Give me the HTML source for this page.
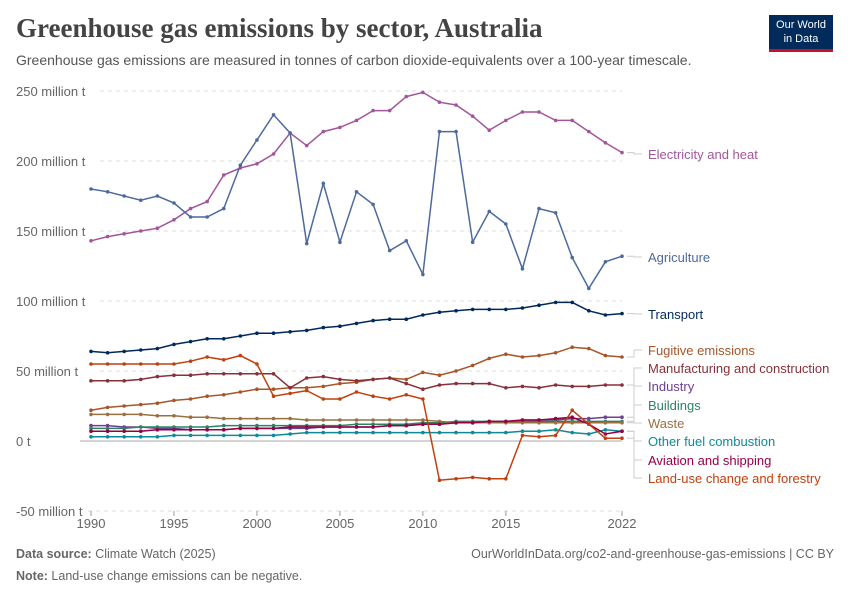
<!DOCTYPE html>
<html><head><meta charset="utf-8">
<style>
body{margin:0;background:#fff;font-family:"Liberation Sans",sans-serif;}
#wrap{position:relative;width:850px;height:600px;overflow:hidden;}
.title{position:absolute;left:16px;top:13px;font-family:"Liberation Serif",serif;font-size:27px;font-weight:bold;color:#444;margin:0;}
.sub{position:absolute;left:16px;top:52px;font-size:14px;color:#555;}
.logo{position:absolute;left:769px;top:15px;width:64px;height:37px;background:#002b5b;color:#fff;font-size:11px;text-align:center;line-height:14px;padding-top:3px;box-sizing:border-box;border-bottom:3px solid #c8102e;}
.foot{position:absolute;font-size:12.5px;color:#666;}
</style></head><body>
<div id="wrap">
<h1 class="title">Greenhouse gas emissions by sector, Australia</h1>
<div class="sub">Greenhouse gas emissions are measured in tonnes of carbon dioxide-equivalents over a 100-year timescale.</div>
<div class="logo">Our World<br>in Data</div>
<svg id="chart" width="850" height="600" style="position:absolute;left:0;top:0"></svg>
<div class="foot" style="left:16px;top:547px"><b>Data source:</b> Climate Watch (2025)</div>
<div class="foot" style="right:16px;top:547px">OurWorldInData.org/co2-and-greenhouse-gas-emissions | CC BY</div>
<div class="foot" style="left:16px;top:569px"><b>Note:</b> Land-use change emissions can be negative.</div>
</div>
<script>
const years=[];for(let y=1990;y<=2022;y++)years.push(y);
const yTicks=[-50,0,50,100,150,200,250];
const xTicks=[1990,1995,2000,2005,2010,2015,2022];
const electricity=[143,146,148,150,152,158,166,171,190,195,198,205,220,211,221,224,229,236,236,246,249,242,240,232,222,229,235,235,229,229,221,213,206];
const agriculture=[180,178,175,172,175,170,160,160,166,197,215,233,220,141,184,142,178,169,136,143,119,221,221,142,164,155,123,166,163,131,109,128,132];
const transport=[64,63,64,65,66,69,71,73,73,75,77,77,78,79,81,82,84,86,87,87,90,92,93,94,94,94,95,97,99,99,93,90,91];
const fugitive=[22,24,25,26,27,29,30,32,33,35,37,37,38,38,39,41,42,44,45,44,49,47,50,54,59,62,60,61,63,67,66,61,60];
const manufacturing=[43,43,43,44,46,47,47,48,48,48,48,48,38,45,46,44,43,44,45,41,37,40,41,41,41,38,39,38,40,39,39,40,40];
const industry=[11,11,10,10,9,9,8,8,8,9,9,9,9,9,10,10,10,10,11,11,12,12,13,13,14,14,15,15,15,16,16,17,17];
const buildings=[9,9,9,10,10,10,10,10,11,11,11,11,11,11,11,11,12,12,12,12,13,13,14,14,14,14,14,14,14,14,14,14,14];
const waste=[19,19,19,19,18,18,17,17,16,16,16,16,16,15,15,15,15,15,15,15,15,14,13,13,13,13,13,13,13,13,13,13,13];
const otherFuel=[3,3,3,3,3,4,4,4,4,4,4,4,5,6,6,6,6,6,6,6,6,6,6,6,6,6,7,7,8,6,5,8,7];
const aviation=[7,7,7,7,8,8,8,8,8,9,9,9,10,10,10,10,10,10,11,11,12,12,13,13,14,14,15,15,16,17,12,5,7];
const landUse=[55,55,55,55,55,55,57,60,58,61,55,32,34,36,30,30,35,32,30,33,30,-28,-27,-26,-27,-27,4,3,4,22,12,2,2];
const seriesNames=["Electricity and heat","Agriculture","Transport","Fugitive emissions","Manufacturing and construction","Industry","Buildings","Waste","Other fuel combustion","Aviation and shipping","Land-use change and forestry"];
const seriesData=[electricity,agriculture,transport,fugitive,manufacturing,industry,buildings,waste,otherFuel,aviation,landUse];
const colors=["#a2559c","#4c6a9c","#00295b","#a65628","#883039","#6d3e91","#2c8465","#9a7040","#0e8a99","#970046","#c0410f"];
const labelY=[154,257,314,350,368,386,405,423,441,460,478];
const X=y=>91+(y-1990)*(622-91)/32;
const Y=v=>441-v*1.4;
const svg=document.getElementById('chart');const NS="http://www.w3.org/2000/svg";
function mk(t,a,p){const e=document.createElementNS(NS,t);for(const k in a)e.setAttribute(k,a[k]);(p||svg).appendChild(e);return e;}
yTicks.forEach(v=>{
 const l=mk('line',{x1:v===0?80:(v===-50?88:100),x2:622,y1:Y(v),y2:Y(v),stroke:v===0?'#aaa':'#ddd','stroke-dasharray':v===0?'':'4,4'});
 
 const t=mk('text',{x:16,y:Y(v)+5,'font-size':13,fill:'#666','font-family':'Liberation Sans'});
 t.textContent=v===0?'0 t':v+' million t';
 
});
xTicks.forEach(v=>{
 const t=mk('text',{x:X(v),y:528,'font-size':13,fill:'#666','text-anchor':'middle','font-family':'Liberation Sans'});t.textContent=v;
 
 const k=mk('line',{x1:X(v),x2:X(v),y1:511,y2:516,stroke:'#999'});
 
});
seriesData.forEach((d,i)=>{
 const g=mk('g',{});
 mk('polyline',{points:d.map((v,j)=>X(years[j])+','+Y(v)).join(' '),fill:'none',stroke:colors[i],'stroke-width':1.5},g);
 d.forEach((v,j)=>{const c=mk('circle',{cx:X(years[j]),cy:Y(v),r:1.8,fill:colors[i]},g);});
 const ey=Y(d[d.length-1]);
 const ln=mk('polyline',{points:`627,${ey} 634,${ey} 634,${labelY[i]} 642,${labelY[i]}`,fill:'none',stroke:'#ccc','stroke-width':1});
 
 const t=mk('text',{x:648,y:labelY[i]+5,'font-size':13,fill:colors[i],'font-family':'Liberation Sans'});t.textContent=seriesNames[i];
 
});
</script>
</body></html>
